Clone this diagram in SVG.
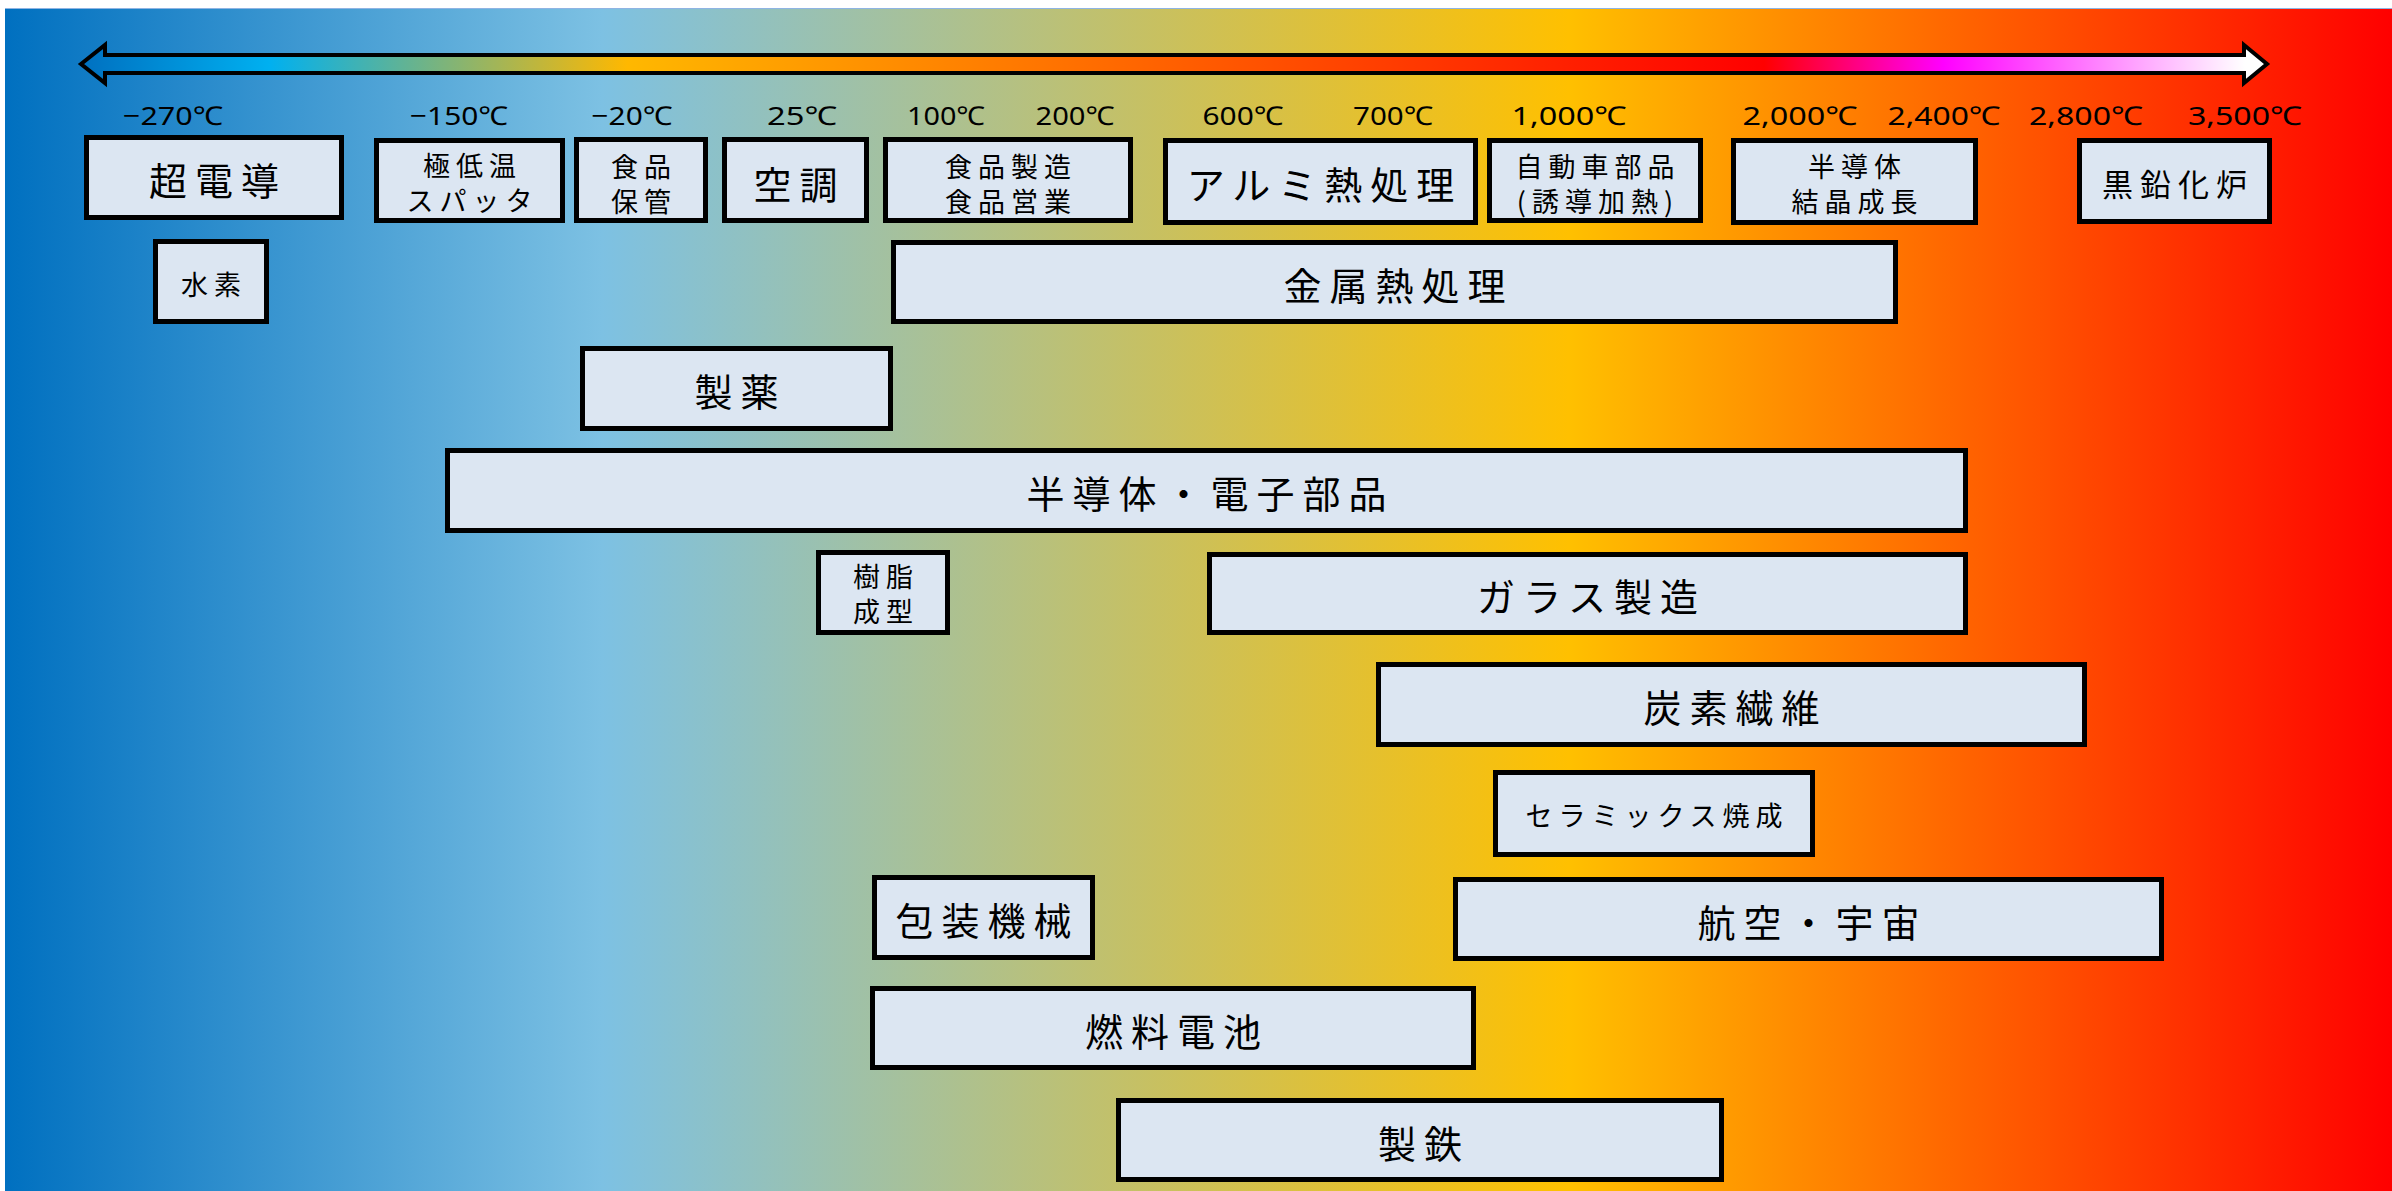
<svg xmlns="http://www.w3.org/2000/svg" width="2392" height="1191" viewBox="0 0 2392 1191">
<defs>
<linearGradient id="bg" gradientUnits="userSpaceOnUse" x1="5" y1="0" x2="2392" y2="0">
<stop offset="0" stop-color="#0070C0"/>
<stop offset="0.25" stop-color="#7DC1E3"/>
<stop offset="0.655" stop-color="#FFC000"/>
<stop offset="1" stop-color="#FF0000"/>
</linearGradient>
<linearGradient id="ar" gradientUnits="userSpaceOnUse" x1="81" y1="0" x2="2267" y2="0">
<stop offset="0" stop-color="#0070C0"/>
<stop offset="0.086" stop-color="#00B0F0"/>
<stop offset="0.25" stop-color="#FFB800"/>
<stop offset="0.77" stop-color="#FF0000"/>
<stop offset="0.852" stop-color="#FF00FF"/>
<stop offset="0.99" stop-color="#FFFFFF"/>
</linearGradient>
<style>
.box{fill:#DCE6F2;stroke:#000;stroke-width:5}
text{font-family:"Noto Sans CJK JP","Noto Sans",sans-serif;fill:#000;text-anchor:middle}
.L{font-size:38px;letter-spacing:8px;dominant-baseline:central}
.M{font-size:31px;letter-spacing:7px;dominant-baseline:central}
.S{font-size:27px;letter-spacing:6px;dominant-baseline:central}
.T{font-family:"Noto Sans","Noto Sans CJK JP",sans-serif;font-size:26px;fill:#000}
</style>
</defs>

<rect x="0" y="0" width="2392" height="1191" fill="#FFFFFF"/>
<rect x="5" y="8" width="2387" height="1183" fill="url(#bg)"/>
<line x1="5" y1="8.5" x2="2392" y2="8.5" stroke="#8EB4E3" stroke-width="1"/>

<g id="axis">
<path d="M81,64 L105,45 L105,55 L2244,55 L2244,45 L2267,64 L2244,83 L2244,73 L105,73 L105,83 Z" fill="url(#ar)" stroke="#000" stroke-width="4" stroke-linejoin="miter"/>
</g>

<g id="temperatures">
<text class="T" x="173" y="125" textLength="100" lengthAdjust="spacingAndGlyphs">−270℃</text>
<text class="T" x="459" y="125" textLength="98" lengthAdjust="spacingAndGlyphs">−150℃</text>
<text class="T" x="632" y="125" textLength="81" lengthAdjust="spacingAndGlyphs">−20℃</text>
<text class="T" x="802" y="125" textLength="70" lengthAdjust="spacingAndGlyphs">25℃</text>
<text class="T" x="946" y="125" textLength="78" lengthAdjust="spacingAndGlyphs">100℃</text>
<text class="T" x="1075" y="125" textLength="79" lengthAdjust="spacingAndGlyphs">200℃</text>
<text class="T" x="1243" y="125" textLength="81" lengthAdjust="spacingAndGlyphs">600℃</text>
<text class="T" x="1393" y="125" textLength="80" lengthAdjust="spacingAndGlyphs">700℃</text>
<text class="T" x="1569" y="125" textLength="115" lengthAdjust="spacingAndGlyphs">1,000℃</text>
<text class="T" x="1800" y="125" textLength="115" lengthAdjust="spacingAndGlyphs">2,000℃</text>
<text class="T" x="1944" y="125" textLength="113" lengthAdjust="spacingAndGlyphs">2,400℃</text>
<text class="T" x="2086" y="125" textLength="114" lengthAdjust="spacingAndGlyphs">2,800℃</text>
<text class="T" x="2245" y="125" textLength="114" lengthAdjust="spacingAndGlyphs">3,500℃</text>
</g>

<g id="connectors"></g>

<g id="n-superconduct"><rect class="box" x="86.5" y="137.5" width="255" height="80"/><text class="L" x="218" y="178">超電導</text></g>
<g id="n-cryo-sputter"><rect class="box" x="376.5" y="140.5" width="186" height="80"/><text class="S" x="472.5"><tspan x="472.5" y="164">極低温</tspan><tspan x="472.5" y="199">スパッタ</tspan></text></g>
<g id="n-food-storage"><rect class="box" x="576.5" y="139.5" width="129" height="81"/><text class="S" x="644"><tspan x="644" y="165">食品</tspan><tspan x="644" y="200">保管</tspan></text></g>
<g id="n-aircon"><rect class="box" x="724.5" y="139.5" width="142" height="81"/><text class="L" x="799.5" y="182">空調</text></g>
<g id="n-food-mfg"><rect class="box" x="885.5" y="139.5" width="245" height="81"/><text class="S" x="1011"><tspan x="1011" y="165">食品製造</tspan><tspan x="1011" y="200">食品営業</tspan></text></g>
<g id="n-alu-heat"><rect class="box" x="1165.5" y="140.5" width="310" height="82"/><text class="L" x="1324.5" y="182">アルミ熱処理</text></g>
<g id="n-auto-parts"><rect class="box" x="1489.5" y="140.5" width="211" height="80"/><text class="S" x="1598"><tspan x="1598" y="165">自動車部品</tspan><tspan x="1598" y="200">(誘導加熱)</tspan></text></g>
<g id="n-crystal"><rect class="box" x="1733.5" y="140.5" width="242" height="82"/><text class="S" x="1857.5"><tspan x="1857.5" y="165">半導体</tspan><tspan x="1857.5" y="200">結晶成長</tspan></text></g>
<g id="n-graphite"><rect class="box" x="2079.5" y="140.5" width="190" height="81"/><text class="M" x="2178" y="182">黒鉛化炉</text></g>

<g id="n-hydrogen"><rect class="box" x="155.5" y="241.5" width="111" height="80"/><text class="S" x="214" y="283">水素</text></g>
<g id="n-metal-heat"><rect class="box" x="893.5" y="242.5" width="1002" height="79"/><text class="L" x="1398.5" y="283">金属熱処理</text></g>
<g id="n-pharma"><rect class="box" x="582.5" y="348.5" width="308" height="80"/><text class="L" x="740.5" y="389">製薬</text></g>
<g id="n-semicon"><rect class="box" x="447.5" y="450.5" width="1518" height="80"/><text class="L" x="1210.5" y="491">半導体・電子部品</text></g>
<g id="n-resin"><rect class="box" x="818.5" y="552.5" width="129" height="80"/><text class="S" x="886"><tspan x="886" y="575">樹脂</tspan><tspan x="886" y="610">成型</tspan></text></g>
<g id="n-glass"><rect class="box" x="1209.5" y="554.5" width="756" height="78"/><text class="L" x="1591.5" y="594">ガラス製造</text></g>
<g id="n-carbon"><rect class="box" x="1378.5" y="664.5" width="706" height="80"/><text class="L" x="1735.5" y="705">炭素繊維</text></g>
<g id="n-ceramic"><rect class="box" x="1495.5" y="772.5" width="317" height="82"/><text class="S" x="1657" y="814">セラミックス焼成</text></g>
<g id="n-packaging"><rect class="box" x="874.5" y="877.5" width="218" height="80"/><text class="L" x="987.5" y="918">包装機械</text></g>
<g id="n-aerospace"><rect class="box" x="1455.5" y="879.5" width="706" height="79"/><text class="L" x="1812.5" y="920">航空・宇宙</text></g>
<g id="n-fuelcell"><rect class="box" x="872.5" y="988.5" width="601" height="79"/><text class="L" x="1177" y="1029">燃料電池</text></g>
<g id="n-steel"><rect class="box" x="1118.5" y="1100.5" width="603" height="79"/><text class="L" x="1424" y="1141">製鉄</text></g>
</svg>
